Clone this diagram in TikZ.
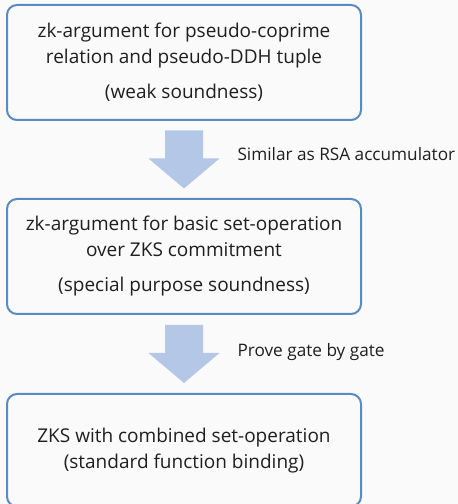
\documentclass[tikz,border=0pt]{standalone}
\usepackage{fontspec}
\setmainfont{Open Sans}
\usetikzlibrary{positioning,calc}

\definecolor{bordeazul}{RGB}{89,139,192}
\definecolor{flechaazul}{RGB}{180,199,231}
\definecolor{fondo}{RGB}{250,250,250}

\tikzset{
  etapa/.style={draw=bordeazul, line width=2pt, rounded corners=10pt, minimum width=354pt,
    align=center, text=black!88, font=\fontsize{19}{26}\selectfont},
  nota/.style={anchor=west, text=black!88, font=\fontsize{17.2}{20}\selectfont},
  bloque/.style={fill=flechaazul},
}

\begin{document}
\begin{tikzpicture}[x=1pt,y=1pt]
            % Fondo y marco de la figura
            \fill[fondo] (0,0) rectangle (458,504);
            \useasboundingbox (0,0) rectangle (458,504);

            % Cajas de cada etapa
            \node[etapa, minimum height=115pt] (debil) at (184,441.5) {zk-argument for pseudo-coprime\\relation and pseudo-DDH tuple\\[9pt](weak soundness)}; % Primera etapa
            \node[etapa, minimum height=115pt, below=77pt of debil] (especial) {zk-argument for basic set-operation\\over ZKS commitment\\[9pt](special purpose soundness)}; % Segunda etapa
            \node[etapa, minimum height=112.5pt, below=78pt of especial] (zks) {ZKS with combined set-operation\\(standard function binding)}; % Etapa final

            % Flechas de bloque entre etapas
            \coordinate[below=9.5pt of debil.south] (f1); % Punta superior de la primera flecha
            \coordinate[below=10pt of especial.south] (f2); % Punta superior de la segunda flecha
            \fill[bloque] (f1) ++(-19,0) -- ++(38,0) -- ++(0,-28) -- ++(16.5,0) -- ++(-35.5,-30) -- ++(-35.5,30) -- ++(16.5,0) -- cycle;
            \fill[bloque] (f2) ++(-19,0) -- ++(38,0) -- ++(0,-28) -- ++(16.5,0) -- ++(-35.5,-30) -- ++(-35.5,30) -- ++(16.5,0) -- cycle;

            % Etiquetas de las flechas
            \node[nota] (rsa) at ($(f1)+(50,-23.5)$) {Similar as RSA accumulator};
            \node[nota] (puerta) at ($(f2)+(50,-27.5)$) {Prove gate by gate};
\end{tikzpicture}
\end{document}
